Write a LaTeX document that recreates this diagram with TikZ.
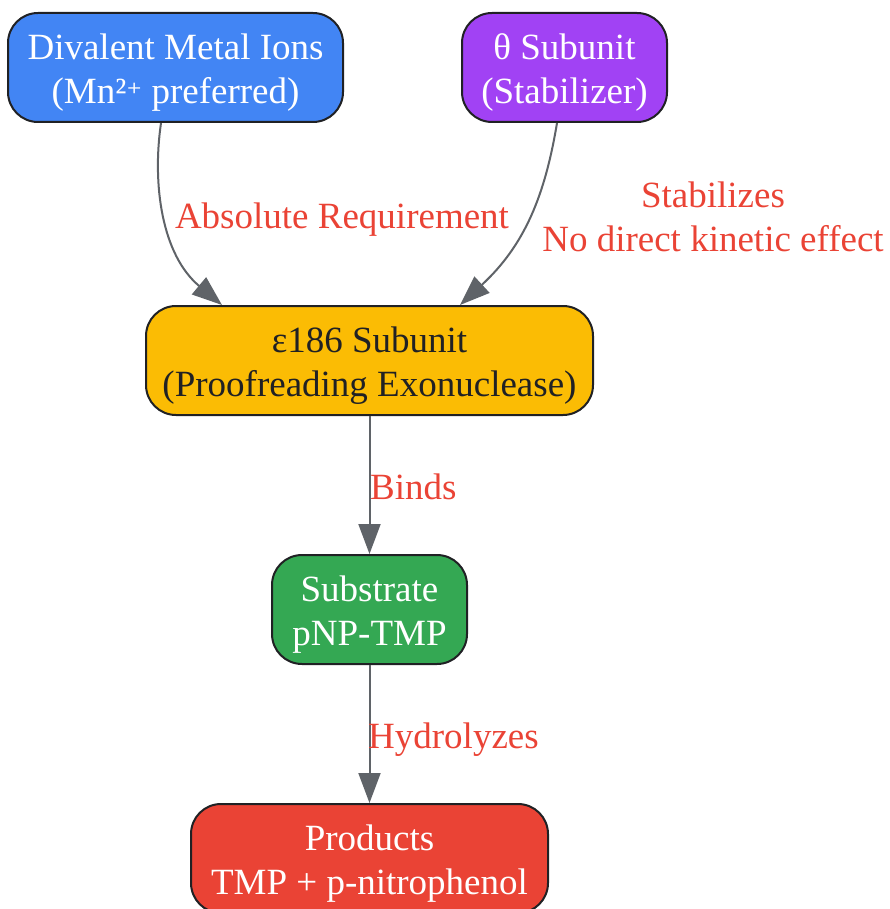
\documentclass[tikz,border=0pt]{standalone}
\usepackage{fontspec}
\setmainfont{Liberation Serif}
\newfontfamily\dvsfont{DejaVu Serif}
\usetikzlibrary{arrows.meta}
\definecolor{cblue}{HTML}{4285F4}
\definecolor{cpurple}{HTML}{A142F4}
\definecolor{cyellow}{HTML}{FBBC04}
\definecolor{cgreen}{HTML}{34A853}
\definecolor{cred}{HTML}{EA4335}
\definecolor{cedge}{HTML}{5F6368}
\definecolor{cborder}{HTML}{202124}
\tikzset{
  box/.style={draw=cborder, line width=2pt, rectangle, rounded corners=30pt,
    minimum height=109pt, inner sep=0pt},
  boxtext/.style={align=center, text=white, inner sep=0pt, yshift=-5.5pt,
    font=\fontsize{37}{44}\selectfont},
  conn/.style={draw=cedge, line width=2pt, -{Triangle[length=30pt,width=22pt]}},
  lbl/.style={text=cred, font=\fontsize{37}{44}\selectfont, align=center, inner sep=0pt}
}
\begin{document}
\begin{tikzpicture}[x=1pt,y=-1pt]
\useasboundingbox (0,0) rectangle (890,909);
\node[box, fill=cblue, minimum width=335pt,
  label={[boxtext]center:{Divalent Metal Ions\\(Mn²{\dvsfont\fontsize{30}{44}\selectfont ⁺} preferred)}}] (div) at (175.5,67.5) {};
\node[box, fill=cpurple, minimum width=205pt,
  label={[boxtext]center:{θ Subunit\\(Stabilizer)}}] (theta) at (564.5,67.5) {};
\node[box, fill=cyellow, minimum width=447pt,
  label={[boxtext, text=cborder]center:{ε186 Subunit\\(Proofreading Exonuclease)}}] (eps) at (369.5,360.5) {};
\node[box, fill=cgreen, minimum width=195pt,
  label={[boxtext]center:{Substrate\\pNP-TMP}}] (sub) at (369.5,609.5) {};
\node[box, fill=cred, minimum width=357pt,
  label={[boxtext]center:{Products\\TMP + p-nitrophenol}}] (prod) at (369.5,858.5) {};
\draw[conn] ([xshift=-14.5pt]div.south) .. controls (152,185) and (162,255) .. ([xshift=-147.5pt]eps.north);
\draw[conn] ([xshift=-7.5pt]theta.south) .. controls (545,195) and (525,245) .. ([xshift=90.5pt]eps.north);
\draw[conn] (eps) -- (sub);
\draw[conn] (sub) -- (prod);
\node[lbl] (l1) at (342,220) {Absolute Requirement};
\node[lbl] (l2) at (713,216.5) {Stabilizes\\No direct kinetic effect};
\node[lbl, anchor=west] (l3) at (370,487) {Binds};
\node[lbl, anchor=west] (l4) at (368,740) {Hydrolyzes};
\end{tikzpicture}
\end{document}
